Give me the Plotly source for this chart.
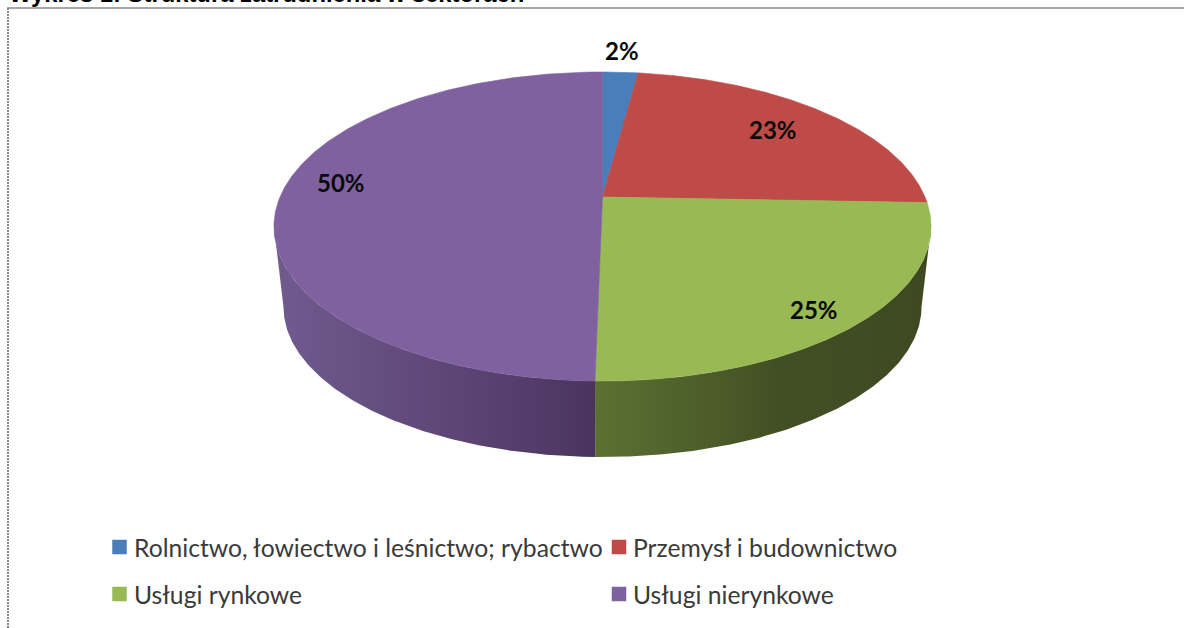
import math
import numpy as np
import plotly.graph_objects as go

TITLE = "Wykres 1: Struktura zatrudnienia w sektorach"
categories = ["Rolnictwo, łowiectwo i leśnictwo; rybactwo", "Przemysł i budownictwo", "Usługi rynkowe", "Usługi nierynkowe"]
shares = [2.1, 23.49, 24.71, 49.7]

colors = ["#4a7ebb", "#be4b48", "#98b954", "#7f619f"]
LABEL_RADIUS = [1.2, 0.7625, 0.87, 0.834]
LABEL_NUDGE = [(-1, -1), (-1, -1), (-8, 5), (7, -13)]
SIDE_GRADIENT = {
    2: [[0, "#5c7032"], [0.25, "#50622c"], [0.55, "#424f24"], [1, "#3e4922"]],
    3: [[0, "#705b8f"], [0.5, "#5f4878"], [1, "#4a345f"]],
}
LEGEND_POS = [(119.5, 547), (619, 547), (119.5, 594), (619, 594)]
TEXT_DX = 12

# perspective view of the pie's circular top and bottom faces
CX, CY, A, B, K = 602.5, 197.0, 322.5, 148.9, 0.191
BOTTOM_SCALE, BOTTOM_CY = 0.971, 278.3
SIL = math.degrees(math.pi / 2 + math.asin(K))


def top(theta):
    t = np.radians(theta)
    a, b = np.sin(t), np.cos(t)
    w = 1 + K * b
    return CX + A * a / w, CY - B * b / w


def bottom(theta):
    x, y = top(theta)
    return CX + BOTTOM_SCALE * (x - CX), BOTTOM_CY + BOTTOM_SCALE * (y - CY)


total = sum(shares)
edges = np.cumsum([0] + shares) / total * 360

fig = go.Figure()

# side walls
for i in range(len(shares)):
    lo, hi = max(edges[i], SIL), min(edges[i + 1], 360 - SIL)
    if hi <= lo:
        continue
    th = np.linspace(lo, hi, 160)
    xt, yt = top(th)
    xb, yb = bottom(th[::-1])
    fig.add_trace(go.Scatter(
        x=np.r_[xt, xb, xt[0]], y=np.r_[yt, yb, yt[0]], mode="lines", fill="toself",
        line=dict(width=0), fillgradient=dict(type="horizontal", colorscale=SIDE_GRADIENT[i]),
        hoverinfo="skip", showlegend=False))

# top faces
for i in range(len(shares)):
    th = np.linspace(edges[i], edges[i + 1], 240)
    xt, yt = top(th)
    fig.add_trace(go.Scatter(
        x=np.r_[CX, xt, CX], y=np.r_[CY, yt, CY], mode="lines", fill="toself",
        fillcolor=colors[i], line=dict(width=0.6, color=colors[i]),
        name=categories[i], hoverinfo="name", showlegend=False))

# legend squares
for i in range(len(shares)):
    fig.add_trace(go.Scatter(
        x=[LEGEND_POS[i][0]], y=[LEGEND_POS[i][1]], mode="markers",
        marker=dict(symbol="square", size=14.5, color=colors[i]),
        hoverinfo="skip", showlegend=False))

ann = []
for i, v in enumerate(shares):
    mid = math.radians((edges[i] + edges[i + 1]) / 2)
    r = LABEL_RADIUS[i]
    a, b = r * math.sin(mid), r * math.cos(mid)
    w = 1 + K * b
    ann.append(dict(x=CX + A * a / w + LABEL_NUDGE[i][0], y=CY - B * b / w + LABEL_NUDGE[i][1],
                    text=f"<b>{round(v)}%</b>", showarrow=False,
                    font=dict(family="Lato", size=24, color="#0a0a0a")))
    ann.append(dict(x=LEGEND_POS[i][0] + TEXT_DX, y=LEGEND_POS[i][1], text=categories[i],
                    xanchor="left", showarrow=False,
                    font=dict(family="Lato", size=24.7, color="#3a3a3a")))
ann.append(dict(x=7, y=9, text=f"<b>{TITLE}</b>", xanchor="left", yanchor="bottom", showarrow=False,
                font=dict(family="Liberation Sans", size=23.8, color="#000000")))

fig.update_layout(
    width=1184, height=628, margin=dict(l=0, r=0, t=0, b=0),
    paper_bgcolor="#ffffff", plot_bgcolor="#ffffff",
    xaxis=dict(range=[0, 1184], visible=False, fixedrange=True),
    yaxis=dict(range=[628, 0], visible=False, fixedrange=True),
    annotations=ann,
    shapes=[
        dict(type="line", xref="x", yref="y", x0=7, x1=1184, y0=8, y1=8, line=dict(color="#8a8a8a", width=1.5)),
        dict(type="line", xref="x", yref="y", x0=8, x1=8, y0=8, y1=628, line=dict(color="#8a8a8a", width=2, dash="2px,1px")),
    ],
)
fig.write_html("out.html", config={"displayModeBar": False},
               post_script="document.body.style.margin='0';document.body.style.overflow='hidden';")
